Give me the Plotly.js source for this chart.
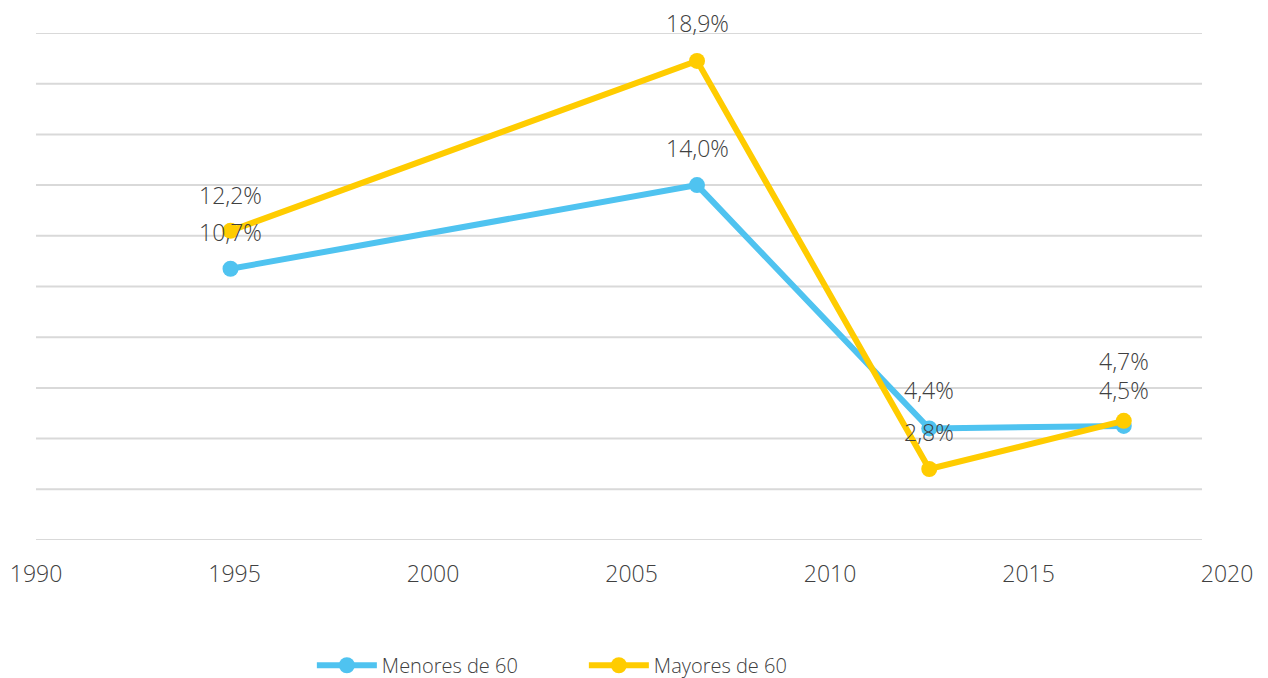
<!DOCTYPE html>
<html>
<head>
<meta charset="utf-8">
<script src="https://cdn.plot.ly/plotly-3.0.1.min.js"></script>
<style>html,body{margin:0;padding:0;background:#fff;}#chart{width:1268px;height:678px;}</style>
</head>
<body>
<div id="chart"></div>
<script>
// Data
const years = [1994.9, 2006.65, 2012.5, 2017.4];
const menores = [10.7, 14.0, 4.4, 4.5];
const mayores = [12.2, 18.9, 2.8, 4.7];
const seriesNames = ["Menores de 60", "Mayores de 60"];
const gridValues = [0, 2, 4, 6, 8, 10, 12, 14, 16, 18, 20];
const xTicks = [1990, 1995, 2000, 2005, 2010, 2015, 2020];

const colors = ["#4FC3F0", "#FFCC00"];
const FONT = "Open Sans, Noto Sans, sans-serif";
const TXT = "#404040";

function fmt(v) { return v.toFixed(1).replace('.', ',') + '%'; }

const traces = [menores, mayores].map((vals, i) => ({
  type: 'scatter', mode: 'lines+markers', name: seriesNames[i],
  x: years, y: vals,
  line: {color: colors[i], width: 6},
  marker: {color: colors[i], size: 16},
  hoverinfo: 'skip'
}));

// label vertical offsets (layout only)
const labelShift = [[37, 37, 38, 36], [36, 38, 37, 60]];
const annotations = [];
[menores, mayores].forEach((vals, i) => {
  vals.forEach((v, j) => {
    annotations.push({
      x: years[j], y: v, xref: 'x', yref: 'y', text: fmt(v), showarrow: false,
      yshift: labelShift[i][j], xanchor: 'center', yanchor: 'middle',
      font: {family: FONT, size: 23, color: TXT, weight: 300}
    });
  });
});

const shapes = gridValues.map(g => ({
  type: 'line', xref: 'paper', yref: 'y', x0: 0, x1: 0.979, y0: g, y1: g,
  line: {color: '#D9D9D9', width: 2}, layer: 'below'
}));

const layout = {
  width: 1268, height: 678,
  margin: {l: 36, r: 41, t: 33, b: 138, autoexpand: false},
  paper_bgcolor: '#fff', plot_bgcolor: '#fff',
  showlegend: true,
  legend: {orientation: 'h', x: 0.46, xanchor: 'center', y: -0.247, yanchor: 'middle',
           font: {family: FONT, size: 20, color: TXT, weight: 300},
           itemwidth: 60, entrywidth: 197, traceorder: 'normal'},
  xaxis: {range: [1990, 2020], tickvals: xTicks, ticktext: xTicks.map(String),
          showgrid: false, zeroline: false, showline: false, ticks: '',
          ticklabelstandoff: 18,
          tickfont: {family: FONT, size: 23, color: TXT, weight: 300}},
  yaxis: {range: [0, 20], showgrid: false, zeroline: false, showline: false,
          showticklabels: false, ticks: ''},
  shapes: shapes,
  annotations: annotations
};

Plotly.newPlot('chart', traces, layout, {displayModeBar: false, staticPlot: true});
</script>
</body>
</html>
